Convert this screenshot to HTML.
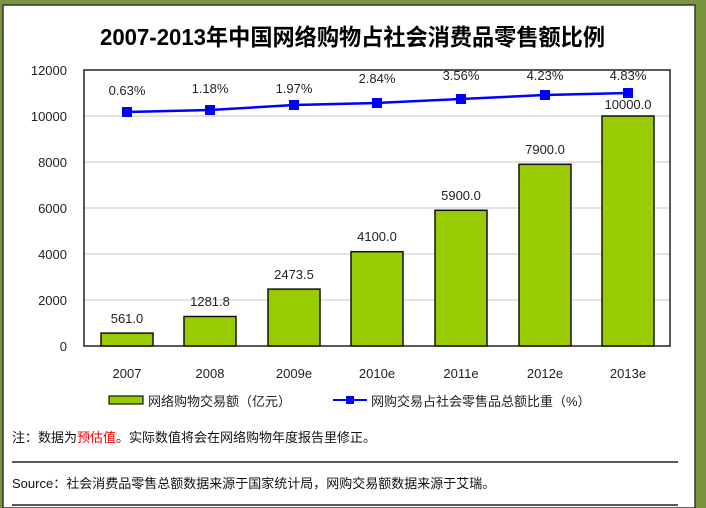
<!DOCTYPE html>
<html><head><meta charset="utf-8"><style>
html,body{margin:0;padding:0;background:#fff;}
svg{display:block;}
text{font-family:"Liberation Sans","Noto Sans CJK SC",sans-serif;}
</style></head><body>
<svg width="706" height="508" viewBox="0 0 706 508" xmlns="http://www.w3.org/2000/svg">
<rect x="0" y="0" width="706" height="508" fill="#7a9440"/>
<rect x="3" y="5" width="692" height="503" fill="#fff" stroke="#333" stroke-width="1.5"/>
<text x="100" y="45" font-size="23" font-weight="bold" textLength="505" lengthAdjust="spacingAndGlyphs" fill="#000">2007-2013年中国网络购物占社会消费品零售额比例</text>
<rect x="84" y="70" width="586" height="276" fill="#fff"/>
<g stroke="#c8c8c8" stroke-width="1">
<line x1="84" x2="670" y1="300" y2="300"/><line x1="84" x2="670" y1="254" y2="254"/>
<line x1="84" x2="670" y1="208" y2="208"/><line x1="84" x2="670" y1="162" y2="162"/>
<line x1="84" x2="670" y1="116" y2="116"/>
</g>
<g font-size="13" fill="#222" text-anchor="end">
<text x="67" y="351">0</text><text x="67" y="305">2000</text><text x="67" y="259">4000</text>
<text x="67" y="213">6000</text><text x="67" y="167">8000</text><text x="67" y="121">10000</text><text x="67" y="75">12000</text>
</g>
<g fill="#99cc00" stroke="#111" stroke-width="1.5">
<rect x="101" y="333.1" width="52" height="12.9"/>
<rect x="184" y="316.5" width="52" height="29.5"/>
<rect x="268" y="289.1" width="52" height="56.9"/>
<rect x="351" y="251.7" width="52" height="94.3"/>
<rect x="435" y="210.3" width="52" height="135.7"/>
<rect x="519" y="164.3" width="52" height="181.7"/>
<rect x="602" y="116" width="52" height="230"/>
</g>
<rect x="84" y="70" width="586" height="276" fill="none" stroke="#222" stroke-width="1.5"/>
<g font-size="13" fill="#222" text-anchor="middle">
<text x="127" y="323">561.0</text><text x="210" y="306">1281.8</text><text x="294" y="279">2473.5</text>
<text x="377" y="241">4100.0</text><text x="461" y="200">5900.0</text><text x="545" y="154">7900.0</text><text x="628" y="109">10000.0</text>
</g>
<polyline points="127,112 210,110 294,105 377,103 461,99 545,95 628,93" fill="none" stroke="#0000ff" stroke-width="2.5"/>
<g fill="#0000ff">
<rect x="122" y="107" width="10" height="10"/><rect x="205" y="105" width="10" height="10"/>
<rect x="289" y="100" width="10" height="10"/><rect x="372" y="98" width="10" height="10"/>
<rect x="456" y="94" width="10" height="10"/><rect x="540" y="90" width="10" height="10"/>
<rect x="623" y="88" width="10" height="10"/>
</g>
<g font-size="13" fill="#222" text-anchor="middle">
<text x="127" y="95">0.63%</text><text x="210" y="93">1.18%</text><text x="294" y="93">1.97%</text>
<text x="377" y="83">2.84%</text><text x="461" y="80">3.56%</text><text x="545" y="80">4.23%</text><text x="628" y="80">4.83%</text>
</g>
<g font-size="13" fill="#222" text-anchor="middle">
<text x="127" y="378">2007</text><text x="210" y="378">2008</text><text x="294" y="378">2009e</text>
<text x="377" y="378">2010e</text><text x="461" y="378">2011e</text><text x="545" y="378">2012e</text><text x="628" y="378">2013e</text>
</g>
<rect x="109" y="396" width="34" height="8" fill="#99cc00" stroke="#111" stroke-width="1.2"/>
<text x="148" y="406" font-size="13" fill="#222">网络购物交易额（亿元）</text>
<line x1="333" x2="367" y1="400" y2="400" stroke="#0000ff" stroke-width="2"/>
<rect x="346" y="396" width="8" height="8" fill="#0000ff"/>
<text x="371" y="406" font-size="13" fill="#222">网购交易占社会零售品总额比重（%）</text>
<text x="12" y="442" font-size="13" fill="#111">注：数据为<tspan fill="#ff0000">预估值</tspan>。实际数值将会在网络购物年度报告里修正。</text>
<line x1="12" x2="678" y1="462" y2="462" stroke="#222" stroke-width="1.5"/>
<text x="12" y="488" font-size="13" fill="#111">Source：社会消费品零售总额数据来源于国家统计局，网购交易额数据来源于艾瑞。</text>
<line x1="12" x2="678" y1="505" y2="505" stroke="#222" stroke-width="1.5"/>
</svg>
</body></html>
